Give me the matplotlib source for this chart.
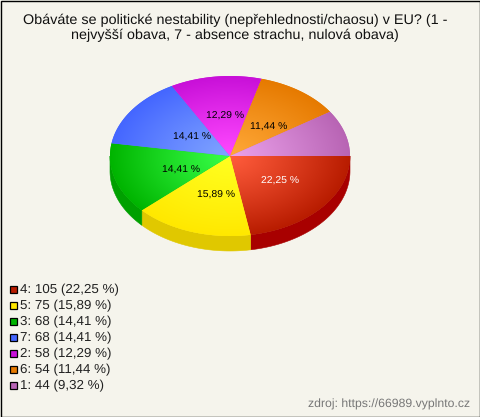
import numpy as np
import matplotlib
matplotlib.use('Agg')
import matplotlib.pyplot as plt
from matplotlib.colors import to_rgb
from matplotlib.patches import Polygon, Rectangle

plt.rcParams['font.family'] = ['Liberation Sans', 'DejaVu Sans']
plt.rcParams['text.hinting'] = 'no_hinting'

# data
categories = ['4', '5', '3', '7', '2', '6', '1']
counts = [105, 75, 68, 68, 58, 54, 44]
percent_labels = ['22,25 %', '15,89 %', '14,41 %', '14,41 %', '12,29 %', '11,44 %', '9,32 %']
title = ('Obáváte se politické nestability (nepřehlednosti/chaosu) v EU? (1 -\n'
         'nejvyšší obava, 7 - absence strachu, nulová obava)')
source = 'zdroj: https://66989.vyplnto.cz'

# colours: rim, centre, side of the pie
RIM = ['#b81c00', '#ffe800', '#00b400', '#4466ff', '#c810d8', '#e67a00', '#b864b4']
CENTRE = ['#ff5c3c', '#ffff20', '#38ff48', '#80a4ff', '#ff48ff', '#ffa838', '#eaa0ea']
SIDE = ['#a80000', '#e0c800', '#00a000', '#3050d0', '#a000b0', '#c06000', '#985098']
LABEL_CLR = ['white', 'black', 'black', 'black', 'black', 'black', 'black']
BG = '#f5f4ec'

# layout in pixels
CX, CY = 230, 156
RX, RY = 120, 80
DEPTH = 15
# nudges for the percent labels, the pie labels are not exactly on the mid radius
NUDGE = [(4, -1), (5, 1), (8, 3), (11, 4), (2, 0), (4, 4), (0, 0)]

fig = plt.figure(figsize=(4.8, 4.17), dpi=100, facecolor=BG)
ax = fig.add_axes([0, 0, 1, 1])
ax.set_xlim(0, 480)
ax.set_ylim(417, 0)
ax.axis('off')

# radial gradient shared by all slices
yy, xx = np.mgrid[-1:1:400j, -1:1:400j]
rr = np.clip(np.hypot(xx, yy), 0, 1)

total = sum(counts)
edges = np.cumsum([0] + counts) / total * 2 * np.pi


def ell(t, dy=0):
    return np.column_stack([CX + RX * np.cos(t), CY + RY * np.sin(t) + dy])


# side wall first, only the front half of the pie shows it
for i in range(len(counts)):
    a0, a1 = edges[i], min(edges[i + 1], np.pi)
    if a0 >= np.pi:
        continue
    t = np.linspace(a0, a1, 60)
    pts = np.vstack([ell(t), ell(t[::-1], DEPTH)])
    ax.add_patch(Polygon(pts, closed=True, fc=SIDE[i], ec=SIDE[i], lw=0.4, zorder=1))

# top of the pie
for i in range(len(counts)):
    t = np.linspace(edges[i], edges[i + 1], 120)
    pts = np.vstack([[CX, CY], ell(t)])
    rim = np.array(to_rgb(RIM[i]))
    centre = np.array(to_rgb(CENTRE[i]))
    img = centre + (rim - centre) * rr[..., None] ** 1.1
    poly = Polygon(pts, closed=True, fc=RIM[i], ec='none', zorder=2)
    ax.add_patch(poly)
    im = ax.imshow(img, extent=(CX - RX, CX + RX, CY + RY, CY - RY), zorder=3,
                   aspect='auto', interpolation='bilinear')
    im.set_clip_path(poly)

ax.set_xlim(0, 480)
ax.set_ylim(417, 0)

# percent labels, the smallest slice has none in the reference
for i in range(len(counts) - 1):
    mid = (edges[i] + edges[i + 1]) / 2
    x = CX + 0.5 * RX * np.cos(mid) + NUDGE[i][0]
    y = CY + 0.5 * RY * np.sin(mid) + NUDGE[i][1]
    ax.text(x, y, percent_labels[i], color=LABEL_CLR[i], fontsize=7.5,
            ha='center', va='center', zorder=5)

# title
ax.text(235, 28, title, fontsize=10.4, color='#111111', ha='center', va='center',
        linespacing=1.1, zorder=5)

# legend
for i, (cat, n, pct) in enumerate(zip(categories, counts, percent_labels)):
    y = 289 + 16 * i
    ax.add_patch(Rectangle((9.5, y - 3.5), 7, 7, fc=RIM[i], ec='black', lw=0.9, zorder=5))
    ax.text(20, y + 1, f'{cat}: {n} ({pct})', fontsize=9.6, color='#222222',
            ha='left', va='center', zorder=5)

# footer
ax.text(470, 404, source, fontsize=8.8, color='#777777', ha='right', va='center', zorder=5)

# border
ax.add_patch(Rectangle((0.5, 0.5), 479, 416, fc='none', ec='black', lw=1.0, zorder=6))

fig.savefig('out.png', dpi=100, facecolor=BG)
